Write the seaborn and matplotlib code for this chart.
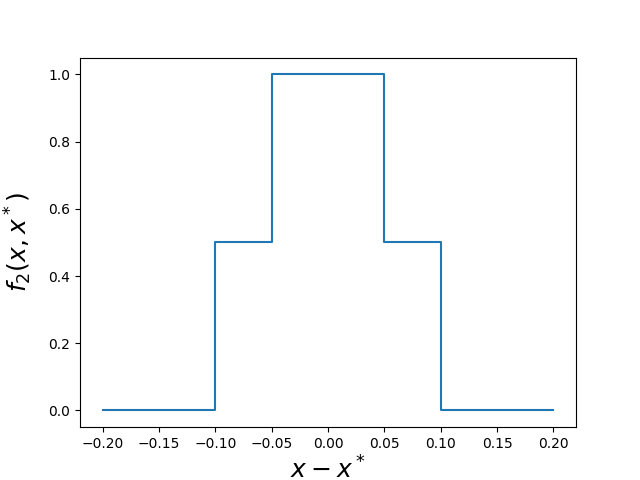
import matplotlib
matplotlib.use("Agg")
import matplotlib.pyplot as plt
import seaborn as sns
import pandas as pd

# Step-function breakpoints
x_vals = [-0.2, -0.1, -0.1, -0.05, -0.05, 0.05, 0.05, 0.1, 0.1, 0.2]
y_vals = [0.0, 0.0, 0.5, 0.5, 1.0, 1.0, 0.5, 0.5, 0.0, 0.0]

df = pd.DataFrame({"x": x_vals, "y": y_vals})

fig, ax = plt.subplots(figsize=(6.4, 4.8), dpi=100)
sns.lineplot(data=df, x="x", y="y", sort=False, estimator=None, ax=ax, color="#1f77b4")
ax.set_xlabel(r"$x - x^*$", fontsize=18)
ax.set_ylabel(r"$f_2(x, x^*)$", fontsize=18, labelpad=10.5)
ax.set_xticks([-0.2, -0.15, -0.1, -0.05, 0.0, 0.05, 0.1, 0.15, 0.2])
fig.savefig("out.png", dpi=100)
